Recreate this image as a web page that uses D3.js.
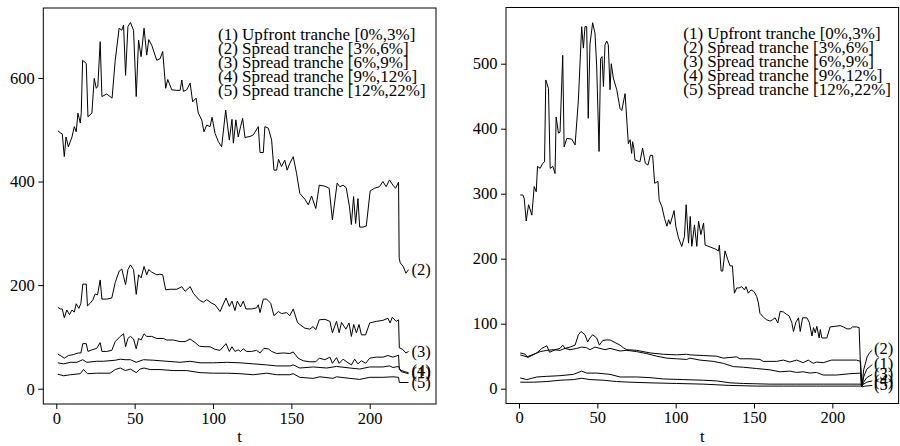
<!DOCTYPE html>
<html><head><meta charset="utf-8">
<script src="https://cdn.jsdelivr.net/npm/d3@7"></script>
<style>
html,body{margin:0;padding:0;background:#fff;}
svg{display:block;}
text{font-family:"Liberation Serif","Times New Roman",serif;fill:#000;}
</style></head>
<body>
<svg id="chart" width="900" height="446"></svg>
<script>
// ---------- DATA ----------
const xTicks = [0, 50, 100, 150, 200];
const leftYTicks = [0, 200, 400, 600];
const rightYTicks = [0, 100, 200, 300, 400, 500];
const legendLabels = ["(1) Upfront tranche [0%,3%]", "(2) Spread tranche [3%,6%]", "(3) Spread tranche [6%,9%]", "(4) Spread tranche [9%,12%]", "(5) Spread tranche [12%,22%]"];
const xLabel = "t";

// Left panel series: [t, value]
const leftA = [[1,498],[2.6,494],[3.8,492],[5.1,448],[6.2,486],[7.7,467],[10,486],[11.5,506],[12.7,496],[13.8,532],[15.3,513],[15.9,532],[16.8,634],[19.1,628],[20.2,525],[22.7,532],[24.2,599],[25.5,580],[26.5,584],[28,670],[29.1,564],[32.2,569],[35.6,561],[37.6,634],[40.1,696],[41.8,692],[42.9,702],[44.2,605],[45.7,699],[47.3,707],[49.3,692],[51,564],[52.5,673],[54.1,641],[56,696],[57.7,644],[59,674],[60.9,663],[64.1,634],[66.2,637],[67.9,651],[69.8,580],[71.1,597],[73.7,577],[76.9,576],[79,576],[80.1,596],[81.1,574],[83.2,577],[85.4,590],[87,554],[89.2,561],[90.6,532],[92.8,519],[94.2,496],[96,509],[98.1,506],[99.4,524],[101.3,493],[103.4,477],[105.5,467],[108.1,538],[110.4,480],[112.1,520],[113,474],[114.6,519],[116.1,486],[117.6,506],[118.9,522],[120.4,485],[123.6,487],[125.7,490],[128.9,506],[130,456],[132.1,456],[133.1,506],[135.3,503],[137.4,480],[138.9,422],[140.6,422],[141.8,443],[143.7,429],[145.8,441],[147.3,422],[149,435],[151.2,448],[153.3,416],[155.4,377],[158.6,366],[160.8,355],[162.9,372],[165.6,348],[167.8,393],[171.4,391],[174.1,387],[176.2,326],[179.2,397],[180.9,390],[183,393],[185,388],[187.1,351],[188.3,317],[189.7,371],[191,319],[192.5,367],[193.6,312],[195.7,312],[197.8,314],[200.3,382],[203.1,387],[206.2,390],[208.4,400],[210.5,390],[212.6,403],[214.8,393],[216.5,387],[218.4,399],[218.8,252],[219.5,243],[221.4,236],[223.1,223],[224.8,230]];
const leftB = [[1,157],[2.6,154],[3.8,154],[5.1,137],[6.7,152],[8.4,143],[10,152],[11.5,148],[12.7,164],[14.4,155],[15.7,165],[16.9,202],[19.1,202],[19.9,160],[21.6,165],[23.4,172],[24.8,183],[26.3,181],[28,210],[29.1,173],[32.2,173],[35.4,175],[37.6,205],[40.1,227],[41.8,231],[42.9,217],[44.2,201],[45.7,230],[47.3,239],[49.3,230],[51,182],[52.5,220],[54.1,214],[56,236],[57.7,220],[59,230],[60.9,225],[64.1,220],[66,221],[67.9,220],[69.8,191],[72.6,192],[76.9,192],[80.1,197],[82.2,188],[85.4,197],[87.5,184],[91.3,171],[93.8,167],[96,172],[99.2,165],[101.3,162],[104.5,149],[108.3,175],[110.4,159],[112.1,169],[114,151],[115.5,169],[117.6,158],[119.3,169],[121,154],[124.6,154],[127.8,156],[128.9,162],[130,147],[132.1,173],[134.2,173],[136.8,165],[138.9,141],[141.7,149],[143.8,145],[147,147],[149,141],[151.2,154],[153.9,128],[155.4,124],[158.6,117],[161.8,115],[163.9,120],[165.6,114],[167.8,133],[171.4,134],[174.6,130],[176.2,108],[178.8,130],[180.5,108],[182,128],[184.8,115],[186.8,127],[188.3,101],[189.8,124],[191.5,108],[193.2,124],[194.7,104],[197.4,104],[200,127],[204.2,130],[208.4,132],[211.6,136],[213,127],[214.4,138],[216.9,130],[218.4,133],[218.9,79],[221,76],[223.1,69],[224.8,72]];
const leftC = [[1,67],[3.6,62],[5.1,59],[7.7,64],[10.9,66],[14,69],[15.7,69],[16.9,87],[19.1,87],[20.2,72],[22.7,75],[25.8,78],[28,89],[29.1,72],[32.2,72],[35.4,74],[37.6,91],[40.8,101],[42.9,106],[44.2,81],[45.7,97],[47.3,101],[49.3,96],[51,77],[52.5,97],[54.1,94],[56,106],[57.7,101],[60.9,101],[64.1,97],[68.4,97],[70.5,94],[74.7,94],[79,91],[82.2,91],[85.4,96],[88.6,89],[91.3,82],[94.9,81],[98.1,81],[101.3,76],[104.5,74],[108.3,87],[110.4,72],[112.1,81],[114,72],[116.1,75],[117.6,72],[119.3,77],[121.4,72],[124.6,72],[127.8,74],[130,69],[132.5,78],[135.3,77],[137.4,72],[140.6,68],[144.9,69],[149,68],[151.2,71],[154.3,59],[157.5,54],[161.8,52],[165.6,52],[167.8,59],[171.4,56],[174.6,61],[176.2,49],[178.8,60],[180.5,49],[183,57],[186.2,50],[188.3,46],[190.4,57],[192.5,48],[194.7,54],[197.4,49],[200,59],[204.2,61],[208.4,61],[211.6,64],[214.8,61],[216.9,63],[218.4,65],[218.9,37],[222.1,33],[224.8,31]];
const leftD = [[1,50],[4.7,48],[9,51],[13.2,51],[16.9,56],[19.5,51],[25.8,53],[30,53],[37.6,55],[40.8,57],[44,56],[47.3,56],[51,51],[55.6,56],[62,55],[70.5,53],[79,51],[85.4,53],[91.7,50],[100.2,50],[108.7,51],[117.2,50],[125.7,48],[134.2,46],[140.6,44],[149,44],[151.2,46],[155.4,40],[163.9,42],[172.5,40],[178.8,43],[187.3,40],[193.6,38],[200,42],[208.4,42],[212.6,44],[214.8,41],[218.4,43],[220,33],[224.8,29]];
const leftE = [[1,28],[4.7,25],[9,27],[15.3,29],[17.4,37],[19.9,29],[25.8,30],[34.3,30],[37.6,37],[40.8,40],[44,35],[47.3,38],[51,31],[53.5,38],[56,40],[59.9,37],[66.2,37],[74.7,35],[83.2,35],[91.7,31],[100.2,30],[108.7,30],[117.2,29],[125.7,27],[134.2,30],[140.6,27],[149,27],[151.2,29],[155.4,22],[163.9,20],[168.2,23],[176.6,20],[178.8,23],[187.3,20],[193.6,18],[200,22],[208.4,22],[214.8,23],[218.4,22],[218.9,12],[224.8,12]];

// Right panel series: [t, value]
const rightA = [[0.8,298],[2.5,298],[3.3,293],[4.6,258],[6.1,283],[7.2,275],[8.2,267],[9.7,311],[11,303],[11.8,342],[13.5,339],[15.2,347],[16.3,349],[17.1,475],[18.8,462],[19.9,339],[21.6,342],[23,331],[23.7,418],[25.2,393],[26.2,395],[27.9,513],[28.8,372],[30.5,385],[33.7,384],[35.8,375],[37.9,444],[40,557],[41.1,524],[42.1,557],[43.2,557],[44.2,416],[45.3,530],[47,563],[48.5,547],[49.6,495],[51.1,365],[52.1,508],[53,511],[53.9,465],[54.9,529],[56,535],[57,529],[58.1,460],[58.9,500],[60.2,478],[62.4,460],[64.5,431],[65.6,428],[67.7,454],[69.8,377],[70.9,383],[71.9,362],[72.5,380],[73.3,370],[74,352],[77.2,349],[78.9,370],[80.6,347],[82.3,344],[83.8,359],[85.3,359],[86.6,316],[88.7,319],[89.5,290],[91.2,280],[92.9,262],[94.4,250],[95.5,260],[96.5,253],[99,274],[100.1,250],[101.8,232],[103.9,219],[105.6,234],[106.7,283],[108.2,224],[109.3,265],[110.3,219],[112,252],[113.5,219],[114.6,258],[116.1,237],[117.8,255],[118.8,221],[122,218],[125.2,215],[127.3,212],[127.9,221],[129,181],[130,181],[131.5,212],[133.2,199],[134.7,189],[136.2,189],[137.5,147],[139,155],[140.5,155],[142.2,157],[143.9,152],[144.9,157],[146.4,147],[148.1,152],[149.6,150],[150.6,147],[151.7,142],[152.8,132],[153.8,116],[156,110],[158.1,106],[160.3,104],[161.8,106],[163.5,109],[165.2,101],[166.7,119],[168.8,118],[171,114],[172.4,112],[174.1,102],[175.2,88],[176.7,102],[178.4,109],[179.5,88],[181,109],[183.8,109],[185.3,102],[187,81],[188,94],[189.1,86],[190.1,96],[191.6,78],[192.3,91],[193.3,78],[196.5,78],[198.6,95],[201.8,96],[205,97],[207.1,95],[209.3,92],[211.4,92],[212.9,95],[215.6,95],[217.1,94],[218.4,4],[220,7],[222,10],[225.5,12]];
const rightB = [[0.8,55],[4,53],[5.5,48],[8.2,51],[11.4,55],[14.6,62],[17.8,66],[19.5,56],[23.1,60],[26.2,62],[27.9,67],[29.4,62],[32.6,64],[35.8,67],[37.9,83],[39.6,88],[42.1,83],[43.8,72],[45.3,78],[47,83],[49.6,78],[51.3,67],[53.4,74],[55.6,75],[58.1,75],[61.3,71],[64.5,67],[66.6,63],[68.8,60],[75.1,59],[83.6,55],[92.1,53],[100.6,52],[106.9,53],[109.1,52],[117.6,51],[126.1,50],[130.4,47],[138.9,49],[141,46],[147.4,46],[153.8,45],[155.9,42],[164.4,42],[168.7,44],[172.9,41],[177.2,44],[181.4,40],[184.6,44],[187.8,39],[189.9,41],[194.2,40],[199.5,44],[206.9,44],[215.4,44],[218,42],[219,5],[220,29],[222.2,49],[224,56],[225.5,59]];
const rightC = [[0.8,52],[5,49],[9.3,53],[13.5,57],[17.8,59],[22,60],[26.2,59],[29.4,62],[32.6,60],[36.9,62],[40,64],[43.2,63],[45.3,60],[48.5,64],[51.7,62],[54.9,60],[58.1,62],[61.3,60],[64.5,58],[68.8,59],[75.1,57],[81.5,54],[87.9,50],[94.2,47],[100.6,46],[107,45],[109.1,47],[115.5,44],[124,42],[130.4,39],[136.8,34],[143.2,33],[151.7,31],[160.2,29],[166.5,26],[172.9,27],[177.2,25],[181.4,26],[185.7,24],[189.9,25],[194.2,21],[202.7,21],[211.1,23],[218,24],[219,4],[220,18],[222,30],[225.5,37]];
const rightD = [[0.8,16.5],[5,14],[11.4,18],[17.8,19],[26.2,20],[34.7,22],[40,27],[43.2,24],[49.6,24],[58.1,22],[64.5,18],[66.6,18],[75.1,18],[83.6,17],[92.1,15],[104.9,14],[117.6,13],[126.1,12],[134.6,9],[143.2,8],[160.2,7],[177.2,7],[194.2,7],[211.1,7],[218,7],[219,4],[220,10],[222,17],[225.5,22]];
const rightE = [[0.8,10],[9.3,10],[17.8,11],[26.2,13],[34.7,14],[40,16],[45.3,14],[53.8,13],[62.3,11],[70.8,10],[83.6,9],[100.6,8],[117.6,7],[134.6,5],[151.7,4],[168.7,4],[190,4],[218,4],[219,3],[221,4],[225.5,5]];

// End labels: [label, value]
const leftEndLabels = [["(2)",230],["(3)",70],["(1)",30],["(4)",34],["(5)",10]];
const rightEndLabels = [["(2)",61],["(1)",38],["(3)",23],["(4)",12],["(5)",6]];

// ---------- DRAW ----------
const svg = d3.select("#chart");
const FS = 16.5;
const LEG_FS = 17;

function panel(cfg) {
  const x = d3.scaleLinear().domain([-8.3, 242.3]).range([cfg.x0, cfg.x1]);
  const y = d3.scaleLinear().domain(cfg.yDomain).range([cfg.y1, cfg.y0]);
  const g = svg.append("g");

  const line = d3.line().x(d => x(d[0])).y(d => y(d[1]));
  cfg.series.forEach(s => {
    g.append("path").datum(s).attr("d", line)
      .attr("fill", "none").attr("stroke", "#000").attr("stroke-width", 1)
      .attr("stroke-linejoin", "round");
  });

  cfg.endLabels.forEach(([lab, v]) => {
    g.append("text").attr("x", x(226.6)).attr("y", y(v)).attr("dy", "0.3em")
      .attr("font-size", FS).text(lab);
  });

  g.append("rect").attr("x", cfg.x0).attr("y", cfg.y0)
    .attr("width", cfg.x1 - cfg.x0).attr("height", cfg.y1 - cfg.y0)
    .attr("fill", "none").attr("stroke", "#000").attr("stroke-width", 1);

  const ax = g.append("g").attr("transform", `translate(0,${cfg.y1})`)
    .call(d3.axisBottom(x).tickValues(xTicks).tickSize(5).tickPadding(3));
  ax.select(".domain").remove();
  ax.selectAll("text").attr("font-size", FS).attr("font-family", null);

  const ay = g.append("g").attr("transform", `translate(${cfg.x0},0)`)
    .call(d3.axisLeft(y).tickValues(cfg.yTicks).tickSize(5).tickPadding(3.5));
  ay.select(".domain").remove();
  ay.selectAll("text").attr("font-size", FS).attr("font-family", null);

  g.append("text").attr("x", (cfg.x0 + cfg.x1) / 2).attr("y", 441.5)
    .attr("text-anchor", "middle").attr("font-size", FS).text(xLabel);

  legendLabels.forEach((lab, i) => {
    g.append("text").attr("x", cfg.legX).attr("y", cfg.legY + i * 14.1)
      .attr("font-size", LEG_FS).text(lab);
  });
}

panel({
  x0: 43.3, x1: 436, y0: 8, y1: 404,
  yDomain: [-29.5, 735], yTicks: leftYTicks,
  series: [leftA, leftB, leftC, leftD, leftE],
  endLabels: leftEndLabels,
  legX: 218, legY: 39.5
});
panel({
  x0: 506, x1: 898.6, y0: 7.5, y1: 403.5,
  yDomain: [-22.8, 586.5], yTicks: rightYTicks,
  series: [rightA, rightB, rightC, rightD, rightE],
  endLabels: rightEndLabels,
  legX: 683.3, legY: 39
});
</script>
</body></html>
